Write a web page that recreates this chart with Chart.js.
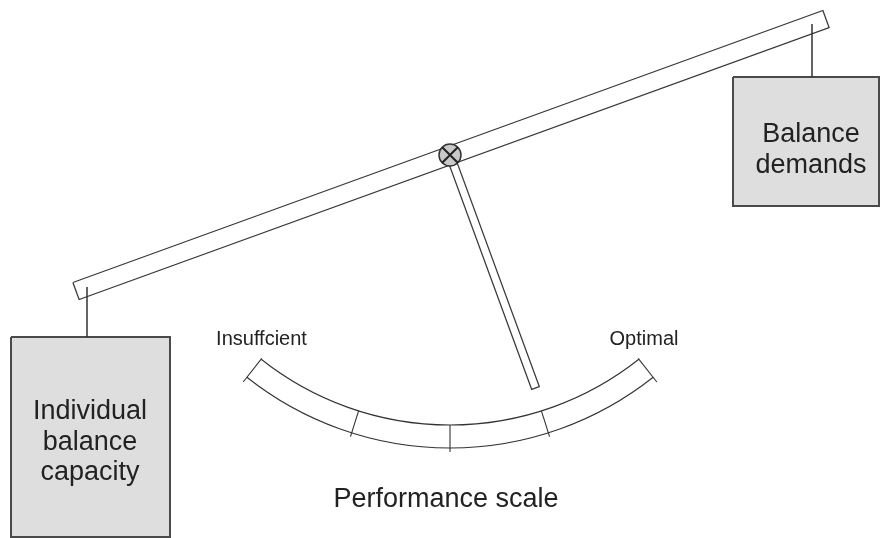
<!DOCTYPE html>
<html>
<head>
<meta charset="utf-8">
<script src="https://cdn.jsdelivr.net/npm/chart.js@4"></script>
<style>
    html, body { margin: 0; padding: 0; background: #fff; }
    canvas { display: block; }
</style>
</head>
<body>
<canvas id="diagram" width="882" height="538"></canvas>
<script>
// diagram geometry, in picture units (x right, y down)
const beamOutline = [[72.9, 282.5], [822.9, 10.5], [829.1, 27.5], [79.1, 299.5], [72.9, 282.5]];
const pointerOutline = [[453.8, 153.6], [539.3, 386.6], [531.7, 389.4], [446.2, 156.4], [453.8, 153.6]];
const pivot = [450, 155];
const hangerLeft = [[87, 287], [87, 337]];
const hangerRight = [[812, 24], [812, 77]];
const boxLeft = [[11, 337], [170, 337], [170, 537], [11, 537], [11, 337]];
const boxRight = [[733, 77], [879, 77], [879, 206], [733, 206], [733, 77]];

// performance scale: arc round a centre, angles in degrees from straight down
const scaleCentre = [450, 121];
const scaleRadii = [304, 327];
const scaleEnds = [-38.4, 38.4];
const scaleTicks = [-17.5, 0, 17.5];

const boxLabels = [
    { text: ['Individual', 'balance', 'capacity'], at: [90, 419] },
    { text: ['Balance', 'demands'], at: [811, 142] },
];
const scaleLabels = [
    { text: 'Insuffcient', at: [261.5, 345], size: 20 },
    { text: 'Optimal', at: [644, 345], size: 20 },
    { text: 'Performance scale', at: [446, 507], size: 27 },
];

const toPoints = list => list.map(([x, y]) => ({ x, y }));

function outline(points, stroke, width, fill) {
    return {
        data: toPoints(points),
        showLine: true,
        pointRadius: 0,
        borderColor: stroke,
        borderWidth: width,
        backgroundColor: fill || 'transparent',
        fill: fill ? 'shape' : false,
        tension: 0,
    };
}

const diagramPlugin = {
    id: 'diagram',
    afterDatasetsDraw(chart) {
        const { ctx, scales: { x, y } } = chart;
        const cx = x.getPixelForValue(scaleCentre[0]);
        const cy = y.getPixelForValue(scaleCentre[1]);
        const radius = r => x.getPixelForValue(scaleCentre[0] + r) - cx;
        const ang = d => (90 - d) * Math.PI / 180;
        const inner = radius(scaleRadii[0]);
        const outer = radius(scaleRadii[1]);

        ctx.save();
        ctx.strokeStyle = '#333';
        ctx.lineWidth = 1.1;

        const a0 = ang(scaleEnds[1]);
        const a1 = ang(scaleEnds[0]);
        [inner, outer].forEach(r => {
            ctx.beginPath();
            ctx.arc(cx, cy, r, a0, a1);
            ctx.stroke();
        });

        const spoke = (deg, r0, r1) => {
            const a = ang(deg);
            ctx.beginPath();
            ctx.moveTo(cx + r0 * Math.cos(a), cy + r0 * Math.sin(a));
            ctx.lineTo(cx + r1 * Math.cos(a), cy + r1 * Math.sin(a));
            ctx.stroke();
        };
        scaleEnds.forEach(d => spoke(d, inner - 1, outer + 6));
        scaleTicks.forEach(d => spoke(d, inner, outer + 4));

        ctx.fillStyle = '#222';
        ctx.textAlign = 'center';
        ctx.textBaseline = 'alphabetic';

        ctx.font = '27px "Liberation Sans", Arial, sans-serif';
        boxLabels.forEach(label => {
            const tx = x.getPixelForValue(label.at[0]);
            label.text.forEach((line, i) => {
                ctx.fillText(line, tx, y.getPixelForValue(label.at[1] + i * 30.5));
            });
        });

        scaleLabels.forEach(label => {
            ctx.font = label.size + 'px "Liberation Sans", Arial, sans-serif';
            ctx.fillText(label.text, x.getPixelForValue(label.at[0]), y.getPixelForValue(label.at[1]));
        });
        ctx.restore();
    },
};

new Chart(document.getElementById('diagram'), {
    type: 'scatter',
    data: {
        datasets: [
            // first dataset is drawn on top
            {
                data: toPoints([pivot]),
                pointStyle: 'crossRot',
                pointRadius: 11,
                borderColor: '#222',
                borderWidth: 2,
            },
            {
                data: toPoints([pivot]),
                pointStyle: 'circle',
                pointRadius: 11,
                backgroundColor: '#c9c9c9',
                borderColor: '#333',
                borderWidth: 1.5,
            },
            outline(hangerLeft, '#333', 1.5),
            outline(hangerRight, '#333', 1.5),
            outline(pointerOutline, '#3a3a3a', 1.3, '#fff'),
            outline(beamOutline, '#3a3a3a', 1.3, '#fff'),
            outline(boxLeft, '#4a4a4a', 2, '#dedede'),
            outline(boxRight, '#4a4a4a', 2, '#dedede'),
        ],
    },
    options: {
        responsive: false,
        animation: false,
        events: [],
        layout: { padding: 0, autoPadding: false },
        plugins: {
            legend: { display: false },
            tooltip: { enabled: false },
        },
        scales: {
            x: { type: 'linear', min: 0, max: 882, display: false },
            y: { type: 'linear', min: 0, max: 538, reverse: true, display: false },
        },
    },
    plugins: [diagramPlugin],
});
</script>
</body>
</html>
